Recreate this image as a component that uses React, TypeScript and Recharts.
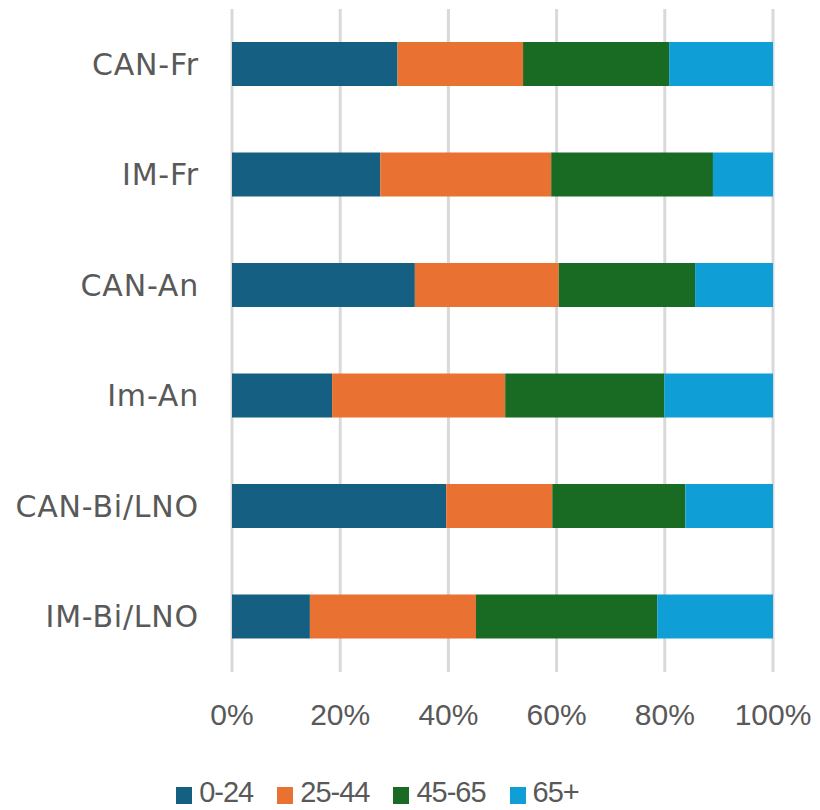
import { BarChart, Bar, XAxis, YAxis, CartesianGrid, Legend } from "recharts";

document.body.style.margin = "0";

const groups = ["CAN-Fr", "IM-Fr", "CAN-An", "Im-An", "CAN-Bi/LNO", "IM-Bi/LNO"];
const age0to24 = [30.6, 27.4, 33.8, 18.5, 39.6, 14.4];
const age25to44 = [23.2, 31.6, 26.6, 32.0, 19.6, 30.7];
const age45to65 = [27.0, 29.9, 25.2, 29.4, 24.6, 33.5];
const age65plus = [19.2, 11.1, 14.4, 20.1, 16.2, 21.4];
const xTicks = [0, 0.2, 0.4, 0.6, 0.8, 1];

const series = [
  { key: "0-24", color: "#156082" },
  { key: "25-44", color: "#E97132" },
  { key: "45-65", color: "#196B24" },
  { key: "65+", color: "#0F9ED5" },
];

const data = groups.map((name, i) => ({
  name,
  "0-24": age0to24[i],
  "25-44": age25to44[i],
  "45-65": age45to65[i],
  "65+": age65plus[i],
}));

const FONT = "'Liberation Sans', Arial, sans-serif";
const LABEL_FONT = "'DejaVu Sans', sans-serif";
const TEXT = "#595959";

function renderLegend() {
  return (
    <div
      style={{
        display: "flex",
        justifyContent: "center",
        gap: 24,
        fontFamily: FONT,
        fontSize: 29,
        letterSpacing: -1,
        color: TEXT,
        lineHeight: "36px",
        paddingRight: 18,
      }}
    >
      {series.map((s) => (
        <div key={s.key} style={{ display: "flex", alignItems: "center" }}>
          <span
            style={{
              display: "inline-block",
              width: 16,
              height: 17,
              background: s.color,
              marginRight: 7,
              marginTop: 6,
            }}
          />
          <span>{s.key}</span>
        </div>
      ))}
    </div>
  );
}

export default function App() {
  return (
    <div style={{ width: 820, height: 810, background: "#fff" }}>
      <BarChart
        width={820}
        height={810}
        data={data}
        layout="vertical"
        stackOffset="expand"
        barSize={44}
        margin={{ top: 9, right: 47, bottom: 0, left: 0 }}
      >
        <CartesianGrid horizontal={false} stroke="#D9D9D9" strokeWidth={3} />
        <XAxis
          type="number"
          domain={[0, 1]}
          ticks={xTicks}
          tickFormatter={(v: number) => `${Math.round(v * 100)}%`}
          axisLine={false}
          tickLine={false}
          tick={{ fill: TEXT, fontSize: 30, fontFamily: FONT }}
          tickMargin={26}
          height={102}
        />
        <YAxis
          type="category"
          dataKey="name"
          width={232}
          axisLine={false}
          tickLine={false}
          tick={{ fill: TEXT, fontSize: 30, fontFamily: LABEL_FONT, letterSpacing: 0.8 }}
          tickMargin={27}
        />
        <Legend verticalAlign="bottom" content={renderLegend} />
        {series.map((s) => (
          <Bar
            key={s.key}
            dataKey={s.key}
            stackId="a"
            fill={s.color}
            isAnimationActive={false}
          />
        ))}
      </BarChart>
    </div>
  );
}
